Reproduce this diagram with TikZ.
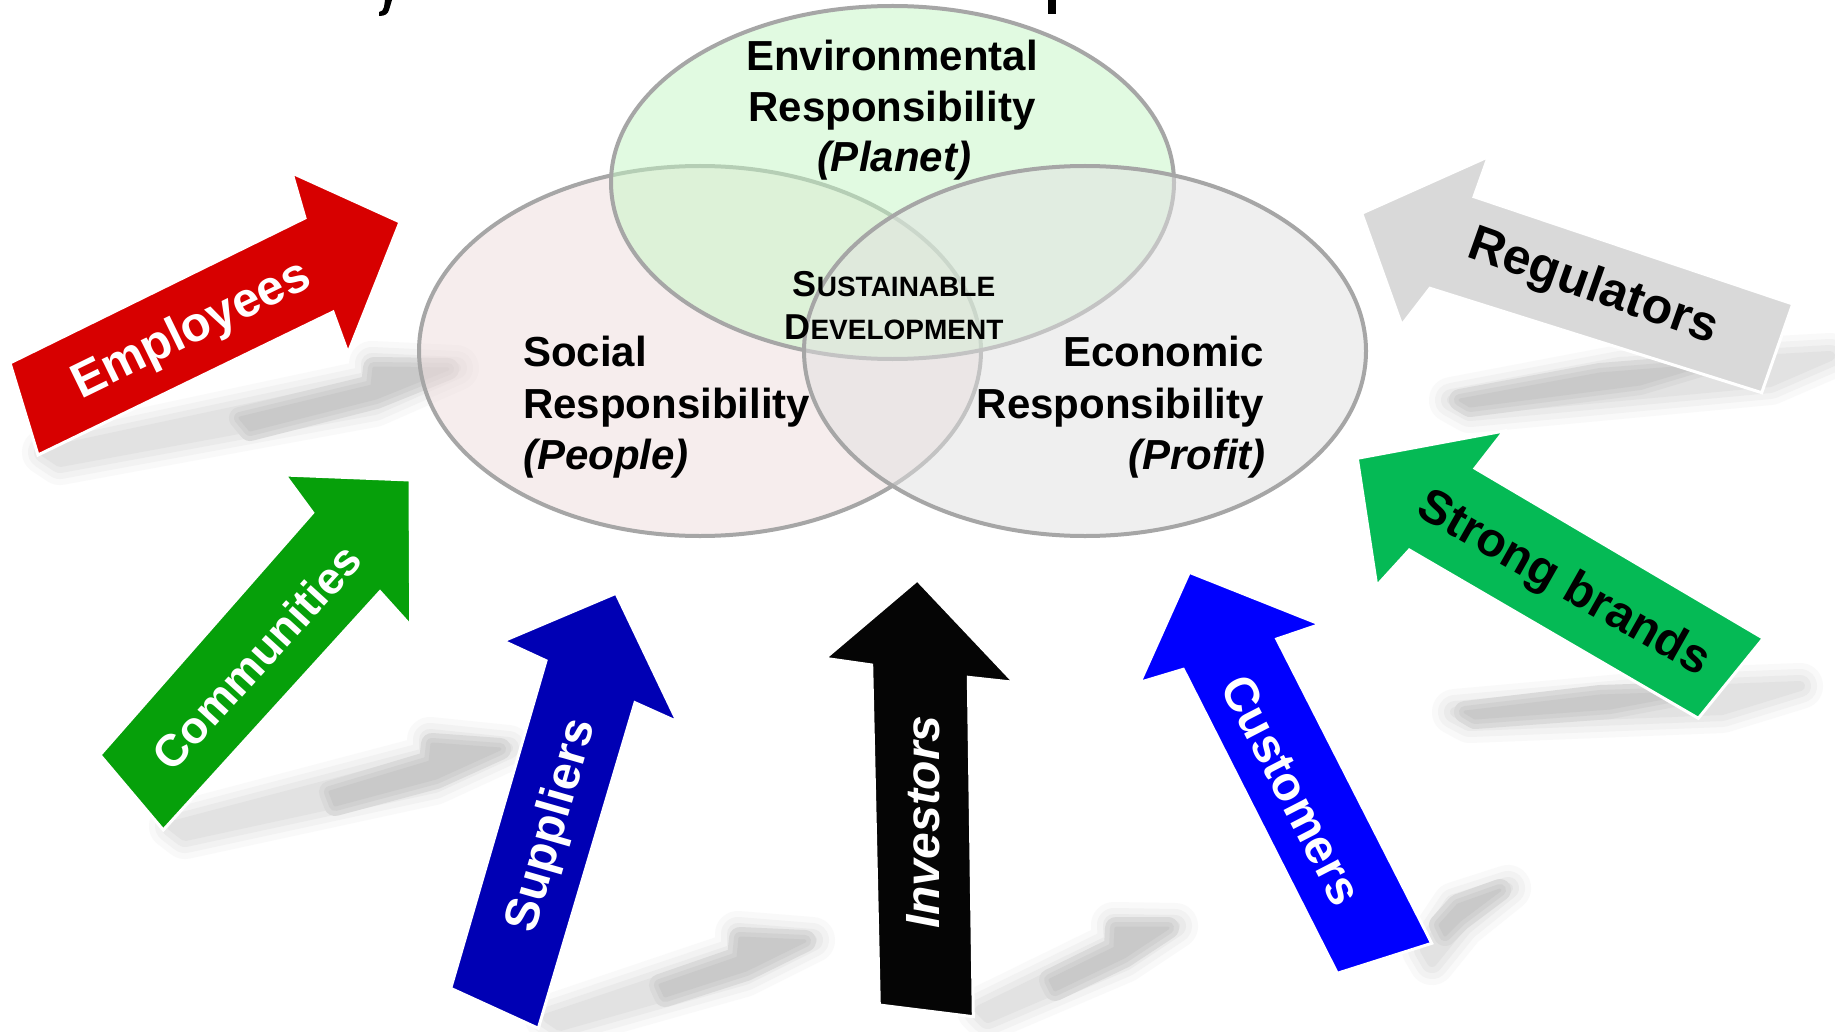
\documentclass[tikz,border=0pt]{standalone}
\usepackage{fontspec}
\setmainfont{Liberation Sans}
\definecolor{venngray}{HTML}{A6A6A6}
\definecolor{planetfill}{HTML}{C5F7C5}
\definecolor{peoplefill}{HTML}{EFDDDD}
\definecolor{profitfill}{HTML}{E1E1E1}
\definecolor{empred}{HTML}{D70000}
\definecolor{commgreen}{HTML}{06A00A}
\definecolor{suppblue}{HTML}{0000B4}
\definecolor{invblack}{HTML}{050505}
\definecolor{custblue}{HTML}{0000FF}
\definecolor{brandgreen}{HTML}{05BA55}
\definecolor{reggray}{HTML}{D9D9D9}
\definecolor{sha}{HTML}{F9F9F9}
\definecolor{shb}{HTML}{F2F2F2}
\definecolor{shc}{HTML}{EAEAEA}
\definecolor{shd}{HTML}{E2E2E2}
\definecolor{she}{HTML}{DADADA}
\definecolor{shf}{HTML}{D1D1D1}
\definecolor{shg}{HTML}{C9C9C9}
% #1 = whole shadow, #2 = darker part of it
\newcommand\castshadow[2]{%
  \filldraw[fill=sha, draw=sha, line width=46pt, line join=round] #1;
  \filldraw[fill=shb, draw=shb, line width=34pt, line join=round] #1;
  \filldraw[fill=shc, draw=shc, line width=22pt, line join=round] #1;
  \filldraw[fill=shd, draw=shd, line width=10pt, line join=round] #1;
  \filldraw[fill=she, draw=she, line width=22pt, line join=round] #2;
  \filldraw[fill=shf, draw=shf, line width=12pt, line join=round] #2;
  \filldraw[fill=shg, draw=shg, line width=3pt, line join=round] #2;
}
\tikzset{
  venn/.style={draw=venngray, line width=4pt, fill opacity=0.5},
  blockarrow/.style={draw=white, line width=3pt, line join=miter},
  lbl/.style={inner sep=0pt, font=\bfseries\fontsize{42}{50}\selectfont},
  lbli/.style={inner sep=0pt, font=\bfseries\itshape\fontsize{42}{50}\selectfont},
  bigcap/.style={inner sep=0pt},
  arrlbl/.style={inner sep=0pt, text=white, font=\bfseries\fontsize{#1}{#1}\selectfont},
  arrlbli/.style={inner sep=0pt, text=white, font=\bfseries\itshape\fontsize{#1}{#1}\selectfont},
}
\begin{document}
\begin{tikzpicture}[x=1pt,y=-1pt]
\useasboundingbox (0,0) rectangle (1835,1032);
\fill[white] (0,0) rectangle (1835,1032);

% fragments of a cut-off title
\fill[black] (1048,0) rectangle (1056,14);
\fill[black] (385,0) -- (392,0) -- (389,10) .. controls (388,14) and (385,16) .. (379,16) -- (379,12) .. controls (382,12) and (383,10) .. (384,7) -- cycle;

% shadows
\castshadow{(45,452) -- (372,382) -- (372,364) -- (456,368) -- (374,404) -- (60,462) -- cycle}
           {(240,418) -- (372,386) -- (374,368) -- (448,369) -- (376,398) -- (250,430) -- cycle}
\castshadow{(172,826) -- (430,758) -- (430,740) -- (508,748) -- (434,782) -- (185,836) -- cycle}
           {(330,792) -- (430,762) -- (432,744) -- (500,749) -- (436,778) -- (335,805) -- cycle}
\castshadow{(548,1018) -- (738,954) -- (738,934) -- (812,940) -- (744,974) -- (560,1026) -- cycle}
           {(660,985) -- (738,958) -- (740,938) -- (805,941) -- (746,970) -- (665,996) -- cycle}
\castshadow{(980,1010) -- (1115,944) -- (1114,925) -- (1175,926) -- (1124,960) -- (988,1018) -- cycle}
           {(1050,980) -- (1115,948) -- (1116,928) -- (1168,928) -- (1124,957) -- (1055,990) -- cycle}
\castshadow{(1425,950) -- (1455,905) -- (1508,888) -- (1462,925) -- (1432,962) -- cycle}
           {(1440,925) -- (1458,905) -- (1500,890) -- (1460,920) -- (1445,935) -- cycle}
\castshadow{(1452,400) -- (1620,368) -- (1830,356) -- (1770,382) -- (1470,410) -- cycle}
           {(1460,400) -- (1600,374) -- (1700,366) -- (1640,384) -- (1470,406) -- cycle}
\castshadow{(1455,712) -- (1700,690) -- (1800,686) -- (1722,710) -- (1470,720) -- cycle}
           {(1465,712) -- (1600,696) -- (1690,693) -- (1610,708) -- (1475,718) -- cycle}

% Venn diagram
\filldraw[venn, fill=peoplefill] (700,351) ellipse [x radius=281, y radius=185];
\filldraw[venn, fill=planetfill] (892.5,182.5) ellipse [x radius=281.5, y radius=176.5];
\filldraw[venn, fill=profitfill] (1085,351) ellipse [x radius=281, y radius=185];

% stakeholder arrows
\filldraw[blockarrow, fill=empred] (10,363) -- (305,218) -- (292,173) -- (400,222) -- (348,353) -- (333,312) -- (38,455) -- cycle;
\filldraw[blockarrow, fill=commgreen] (100,755) -- (312.7,512.7) -- (285,475) -- (410,480) -- (410.7,625.7) -- (380,591.7) -- (163.3,830) -- cycle;
\filldraw[blockarrow, fill=suppblue] (450.7,988.3) -- (546,660.7) -- (503.3,641) -- (616,593.3) -- (677.3,721.7) -- (635,702.7) -- (538.3,1028.3) -- cycle;
\filldraw[blockarrow, fill=invblack] (879.3,1005) -- (871.7,665) -- (825,658.3) -- (917.3,580) -- (1014,682.3) -- (968.3,677.3) -- (973.3,1016.7) -- cycle;
\filldraw[blockarrow, fill=custblue] (1189.3,572.3) -- (1320,624.3) -- (1276.7,639) -- (1431.7,943.3) -- (1337.3,973.3) -- (1183.3,669.3) -- (1140,682.3) -- cycle;
\filldraw[blockarrow, fill=reggray] (1361.7,213.3) -- (1488.3,156.7) -- (1474,196.7) -- (1792.7,304) -- (1761.7,392.7) -- (1430,288.3) -- (1401.7,325) -- cycle;
\filldraw[blockarrow, fill=brandgreen] (1357.3,458.3) -- (1504,431) -- (1475,468.3) -- (1763.3,638.3) -- (1698.3,718.3) -- (1409.3,550) -- (1376.7,585.7) -- cycle;

% arrow labels
\node[arrlbl=49, rotate=26] (tEmp) at (192,331) {Employees};
\node[arrlbl=45, rotate=47.7] (tCom) at (257,657) {Communities};
\node[arrlbl=48, rotate=74] (tSup) at (553,826) {Suppliers};
\node[arrlbli=48, rotate=90] (tInv) at (923,822) {Investors};
\node[arrlbl=48, rotate=-62.7] (tCus) at (1292,790) {Customers};
\node[arrlbl=50, text=black, rotate=-19.5] (tReg) at (1593,288) {Regulators};
\node[arrlbl=48, text=black, rotate=-29.5] (tBra) at (1563,585) {Strong brands};

% Venn labels
\node[lbl, anchor=base] (envA) at (892,71) {Environmental};
\node[lbl, anchor=base] (envB) at (892,122) {Responsibility};
\node[lbli, anchor=base] (envC) at (894,172) {(Planet)};

\node[lbl, anchor=base west] (socA) at (523,366) {Social};
\node[lbl, anchor=base west] (socB) at (523,418) {Responsibility};
\node[lbli, anchor=base west] (socC) at (523,469) {(People)};

\node[lbl, anchor=base east] (ecoA) at (1264,366) {Economic};
\node[lbl, anchor=base east] (ecoB) at (1264,418) {Responsibility};
\node[lbli, anchor=base east] (ecoC) at (1266,469) {(Profit)};

\node[bigcap, anchor=base] (susA) at (894,296) {\bfseries\fontsize{36}{40}\selectfont S\fontsize{28}{40}\selectfont USTAINABLE};
\node[bigcap, anchor=base] (susB) at (894,339) {\bfseries\fontsize{36}{40}\selectfont D\fontsize{28}{40}\selectfont EVELOPMENT};
\end{tikzpicture}
\end{document}
